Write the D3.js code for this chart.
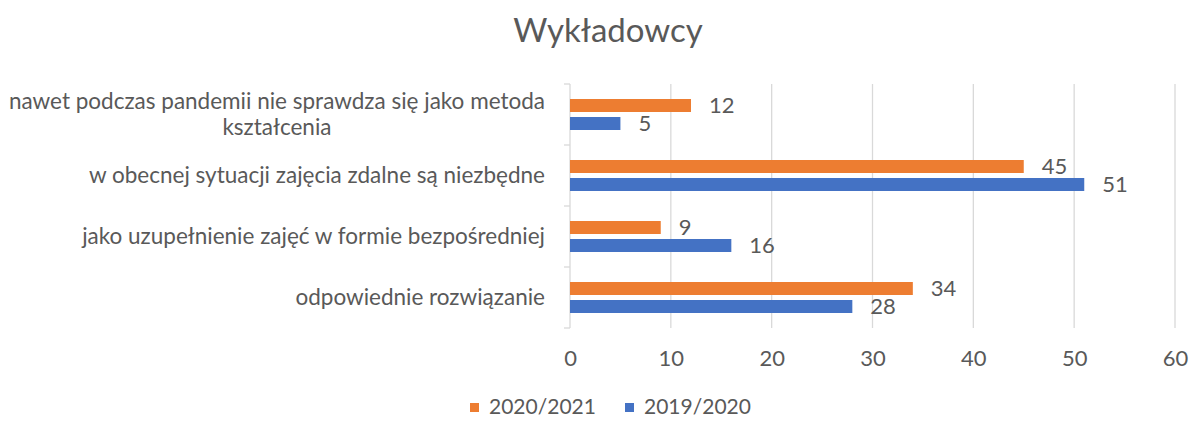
<!DOCTYPE html>
<html>
<head>
<meta charset="utf-8">
<script src="https://cdn.jsdelivr.net/npm/d3@7"></script>
<style>
  body { margin: 0; background: #fff; }
  svg text { font-family: Lato, "Open Sans", sans-serif; fill: #595959; }
</style>
</head>
<body>
<svg id="chart" width="1192" height="421"></svg>
<script>
var categories = [
    ['nawet podczas pandemii nie sprawdza się jako metoda', 'kształcenia'],
    ['w obecnej sytuacji zajęcia zdalne są niezbędne'],
    ['jako uzupełnienie zajęć w formie bezpośredniej'],
    ['odpowiednie rozwiązanie']
];
var series = ['2020/2021', '2019/2020'];
var values2021 = [12, 45, 9, 34];
var values2020 = [5, 51, 16, 28];
var xTicks = [0, 10, 20, 30, 40, 50, 60];
var colors = ['#ED7D31', '#4472C4'];

var svg = d3.select('#chart');
var width = +svg.attr('width');
var height = +svg.attr('height');

var padding = { top: 84, right: 17, bottom: 93, left: 570 };

var data = categories.map((c, i) => ({
    idx: i,
    label: c,
    vals: [values2021[i], values2020[i]]
}));

var xScale = d3.scaleLinear()
                .domain([0, 60])
                .range([padding.left, width - padding.right]);

var yScale = d3.scaleBand()
                .domain(d3.range(categories.length))
                .range([padding.top, height - padding.bottom]);

var barH = 13;
var barGap = 5;

// title
svg.append('text')
    .attr('x', 608)
    .attr('y', 42)
    .style('font-size', '33px')
    .style('text-anchor', 'middle')
    .text('Wykładowcy');

// gridlines
svg.append('g')
    .selectAll('line')
    .data(xTicks.slice(1))
    .enter()
    .append('line')
        .attr('x1', d => xScale(d))
        .attr('x2', d => xScale(d))
        .attr('y1', padding.top)
        .attr('y2', height - padding.bottom)
        .attr('stroke', '#D9D9D9')
        .attr('stroke-width', 1.3);

// x axis labels
var xAxis = d3.axisBottom(xScale)
                .tickValues(xTicks)
                .tickSize(0)
                .tickPadding(22);

svg.append('g')
    .classed('x-axis', true)
    .attr('transform', `translate(0, ${height - padding.bottom})`)
    .call(xAxis)
    .call(g => g.select('.domain').remove())
    .selectAll('text')
        .style('font-size', '22px')
        .attr('fill', '#595959');

// y axis line with boundary ticks
var yAxisG = svg.append('g');
yAxisG.append('line')
    .attr('x1', padding.left)
    .attr('x2', padding.left)
    .attr('y1', padding.top)
    .attr('y2', height - padding.bottom)
    .attr('stroke', '#D9D9D9')
    .attr('stroke-width', 1.3);

yAxisG.selectAll('.ytick')
    .data(d3.range(categories.length + 1))
    .enter()
    .append('line')
        .attr('x1', padding.left - 6)
        .attr('x2', padding.left)
        .attr('y1', d => padding.top + d * yScale.step())
        .attr('y2', d => padding.top + d * yScale.step())
        .attr('stroke', '#D9D9D9')
        .attr('stroke-width', 1.3);

// category labels (wrapped lines centered as a block, block right-aligned)
var labelRight = 545;
var lineH = 26;
data.forEach(d => {
    var cy = yScale(d.idx) + yScale.bandwidth() / 2;
    var g = svg.append('g');
    var texts = d.label.map((line, j) => g.append('text')
        .attr('y', cy + (j - (d.label.length - 1) / 2) * lineH)
        .attr('dy', '0.35em')
        .style('font-size', '22.5px')
        .style('text-anchor', 'middle')
        .text(line));
    var maxW = d3.max(texts, t => t.node().getComputedTextLength());
    texts.forEach(t => t.attr('x', labelRight - maxW / 2));
});

// bars
series.forEach((s, si) => {
    var yOff = si === 0 ? -barGap / 2 - barH : barGap / 2;
    svg.append('g')
        .selectAll('rect')
        .data(data)
        .enter()
        .append('rect')
            .attr('x', xScale(0))
            .attr('y', d => yScale(d.idx) + yScale.bandwidth() / 2 + yOff)
            .attr('width', d => xScale(d.vals[si]) - xScale(0))
            .attr('height', barH)
            .attr('fill', colors[si]);

    svg.append('g')
        .selectAll('text')
        .data(data)
        .enter()
        .append('text')
            .attr('x', d => xScale(d.vals[si]) + 18)
            .attr('y', d => yScale(d.idx) + yScale.bandwidth() / 2 + yOff + barH / 2)
            .attr('dy', '0.35em')
            .style('font-size', '22px')
            .text(d => d.vals[si]);
});

// legend
var legendItems = [
    { name: series[0], color: colors[0], x: 470 },
    { name: series[1], color: colors[1], x: 625 }
];
var legend = svg.append('g');
legendItems.forEach(li => {
    legend.append('rect')
        .attr('x', li.x)
        .attr('y', 403)
        .attr('width', 9)
        .attr('height', 9)
        .attr('fill', li.color);
    legend.append('text')
        .attr('x', li.x + 19)
        .attr('y', 407)
        .attr('dy', '0.35em')
        .style('font-size', '21px')
        .text(li.name);
});
</script>
</body>
</html>
